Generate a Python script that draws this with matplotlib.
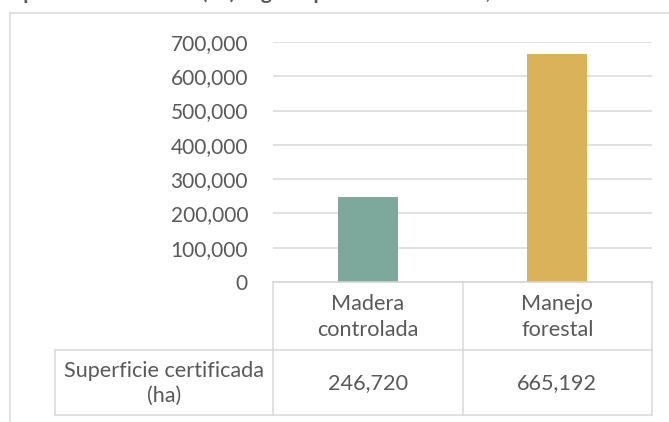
import matplotlib
matplotlib.use("Agg")
import matplotlib.pyplot as plt
from matplotlib.lines import Line2D
from matplotlib.ticker import FuncFormatter

# ---- data ----
categories = ["Madera\ncontrolada", "Manejo\nforestal"]
values = [246720, 665192]
series_name = "Superficie certificada\n(ha)"
bar_colors = ["#7DA89C", "#D9B25A"]
yticks = [0, 100000, 200000, 300000, 400000, 500000, 600000, 700000]
title = "Superficie certificada (ha) según tipo de certificación, 2019"

W, H = 669, 422
plt.rcParams['font.family'] = ['Lato', 'DejaVu Sans']
fig = plt.figure(figsize=(W / 100, H / 100), dpi=100)
fig.patch.set_facecolor("white")

def fx(x):
    return x / W

def fy(y):
    return 1 - y / H

TXT = "#595959"
GRID = "#D9D9D9"

# plot area in pixels
L, R, T, B = 273, 652, 42, 282
ax = fig.add_axes([fx(L), fy(B), fx(R) - fx(L), fy(T) - fy(B)])
ax.bar(range(len(values)), values, width=0.315, color=bar_colors, zorder=3)
ax.set_xlim(-0.5, len(values) - 0.5)
ax.set_ylim(0, 700000)
ax.set_yticks(yticks)
ax.yaxis.set_major_formatter(FuncFormatter(lambda v, p: f"{int(v):,}"))
ax.tick_params(axis="y", length=0, pad=18, labelsize=15, labelcolor=TXT)
ax.set_xticks([])
ax.grid(axis="y", color=GRID, linewidth=1.1, zorder=0)
for s in ["top", "right", "left"]:
    ax.spines[s].set_visible(False)
ax.spines["bottom"].set_color(GRID)
ax.spines["bottom"].set_linewidth(1.1)
ax.set_facecolor("none")

def hline(x0, x1, y):
    fig.add_artist(Line2D([fx(x0), fx(x1)], [fy(y), fy(y)], color=GRID, lw=1.1))

def vline(x, y0, y1):
    fig.add_artist(Line2D([fx(x), fx(x)], [fy(y0), fy(y1)], color=GRID, lw=1.1))

# chart frame (extends beyond the visible image)
hline(10, 669, 13)
vline(10, 13, 422)

# data table
col_w = (R - L) / len(categories)
row1_top, row1_bot, row2_bot = 282, 350, 415
tbl_left = 55
hline(L, R, row1_top)
hline(tbl_left, R, row1_bot)
hline(tbl_left, R, row2_bot)
vline(tbl_left, row1_bot, row2_bot)
for i in range(len(categories) + 1):
    vline(L + i * col_w, row1_top, row2_bot)

FS = 15.6
for i, (c, v) in enumerate(zip(categories, values)):
    cx = L + (i + 0.5) * col_w
    fig.text(fx(cx), fy((row1_top + row1_bot) / 2 + 1), c, ha="center", va="center",
             fontsize=FS, color=TXT, linespacing=1.38)
    fig.text(fx(cx), fy((row1_bot + row2_bot) / 2 + 1), f"{v:,}", ha="center", va="center",
             fontsize=FS, color=TXT)
fig.text(fx((tbl_left + L) / 2), fy((row1_bot + row2_bot) / 2 + 1), series_name,
         ha="center", va="center", fontsize=FS, color=TXT, linespacing=1.32)

# title (mostly cut off at the top edge, as in the reference)
fig.text(fx(0), fy(0) + 0.002, title, ha="left", va="baseline", fontsize=15,
         fontweight="bold", color=TXT)

fig.savefig("out.png", dpi=100, facecolor="white")
